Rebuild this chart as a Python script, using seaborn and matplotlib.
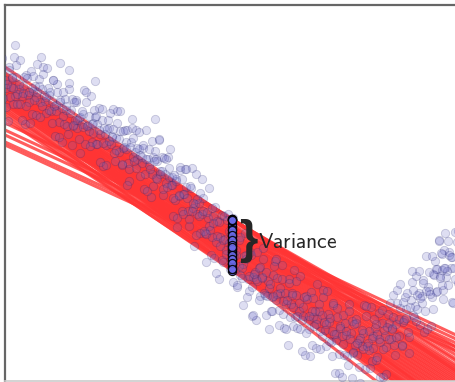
import numpy as np
import pandas as pd
import seaborn as sns
import matplotlib.pyplot as plt

sns.set_style("white")
plt.rcParams["mathtext.fontset"] = "cm"

# observations, read strip by strip from left to right (y measured up from the bottom edge)
obs_x = [3, -6, 8, -2, 10, -9, 1, 6, -5, 0, 7, -8, 4, -3,
         23, 14, 28, 18, 30, 11, 21, 26, 15, 20, 27, 12, 24, 17,
         43, 34, 48, 38, 50, 31, 41, 46, 35, 40, 47, 32, 44, 37,
         63, 54, 68, 58, 70, 51, 61, 66, 55, 60, 67, 52, 64, 57,
         83, 74, 88, 78, 90, 71, 81, 86, 75, 80, 87, 72, 84, 77,
         103, 94, 108, 98, 110, 91, 101, 106, 95, 100, 107, 92, 104, 97,
         123, 114, 128, 118, 130, 111, 121, 126, 115, 120, 127, 112, 124, 117,
         143, 134, 148, 138, 150, 131, 141, 146, 135, 140, 147, 132, 144, 137,
         163, 154, 168, 158, 170, 151, 161, 166, 155, 160, 167, 152, 164, 157,
         183, 174, 188, 178, 190, 171, 181, 186, 175, 180, 187, 172, 184, 177,
         203, 194, 208, 198, 210, 191, 201, 206, 195, 200, 207, 192, 204, 197,
         223, 214, 228, 218, 230, 211, 221, 226, 215, 220, 227, 212, 224, 217,
         243, 234, 248, 238, 250, 231, 241, 246, 235, 240, 247, 232, 244, 237,
         263, 254, 268, 258, 270, 251, 261, 266, 255, 260, 267, 252, 264, 257,
         283, 274, 288, 278, 290, 271, 281, 286, 275, 280, 287, 272, 284, 277,
         303, 294, 308, 298, 310, 291, 301, 306, 295, 300, 307, 292, 304, 297,
         323, 314, 328, 318, 330, 311, 321, 326, 315, 320, 327, 312, 324, 317,
         343, 334, 348, 338, 350, 331, 341, 346, 335, 340, 347, 332, 344, 337,
         363, 354, 368, 358, 370, 351, 361, 366, 355, 360, 367, 352, 364, 357,
         383, 374, 388, 378, 390, 371, 381, 386, 375, 380, 387, 372, 384, 377,
         403, 394, 408, 398, 410, 391, 401, 406, 395, 400, 407, 392, 404, 397,
         423, 414, 428, 418, 430, 411, 421, 426, 415, 420, 427, 412, 424, 417,
         443, 434, 448, 438, 450, 431, 441, 446, 435, 440, 447, 432, 444, 437,
         10, 36, 55, 64, 90, 150, 122, 453, 455,
         2, 14, 7, 19, 4, 11, 9, 17, 1, 15, 5, 12, 18, 8,
         22, 34, 27, 39, 24, 31, 29, 37, 21, 35, 25, 32, 38, 28,
         42, 54, 47, 59, 44, 51, 49, 57, 41, 55, 45, 52, 58, 48,
         62, 74, 67, 79, 64, 71, 69, 77, 61, 75, 65, 72, 78, 68,
         82, 94, 87, 99, 84, 91, 89, 97, 81, 95, 85, 92, 98, 88,
         102, 114, 107, 119, 104, 111, 109, 117, 101, 115, 105, 112, 118, 108,
         122, 134, 127, 139, 124, 131, 129, 137, 121, 135, 125, 132, 138, 128,
         142, 154, 147, 159, 144, 151, 149, 157, 141, 155, 145, 152, 158, 148,
         162, 174, 167, 179, 164, 171, 169, 177, 161, 175, 165, 172, 178, 168,
         182, 194, 187, 199, 184, 191, 189, 197, 181, 195, 185, 192, 198, 188,
         202, 214, 207, 219, 204, 211, 209, 217, 201, 215, 205, 212, 218, 208,
         222, 234, 227, 239, 224, 231, 229, 237, 221, 235, 225, 232, 238, 228,
         242, 254, 247, 259, 244, 251, 249, 257, 241, 255, 245, 252, 258, 248,
         262, 274, 267, 279, 264, 271, 269, 277, 261, 275, 265, 272, 278, 268,
         282, 294, 287, 299, 284, 291, 289, 297, 281, 295, 285, 292, 298, 288,
         302, 314, 307, 319, 304, 311, 309, 317, 301, 315, 305, 312, 318, 308,
         322, 334, 327, 339, 324, 331, 329, 337, 321, 335, 325, 332, 338, 328,
         342, 354, 347, 359, 344, 351, 349, 357, 341, 355, 345, 352, 358, 348,
         362, 374, 367, 379, 364, 371, 369, 377, 361, 375, 365, 372, 378, 368,
         382, 394, 387, 399, 384, 391, 389, 397, 381, 395, 385, 392, 398, 388,
         402, 414, 407, 419, 404, 411, 409, 417, 401, 415, 405, 412, 418, 408,
         422, 434, 427, 439, 424, 431, 429, 437, 421, 435, 425, 432, 438, 428,
         437, 449, 442, 454, 439, 446, 444, 452, 436, 450, 440, 447, 453, 443]
obs_y = [260, 273, 277, 283, 285, 291, 293, 294, 299, 301, 304, 310, 314, 323,
         286, 292, 290, 295, 295, 304, 306, 310, 321, 257, 267, 277, 279, 285,
         293, 302, 301, 314, 245, 266, 268, 270, 279, 280, 280, 289, 286, 292,
         247, 259, 255, 265, 261, 276, 271, 271, 281, 282, 282, 297, 298, 239,
         256, 263, 258, 267, 264, 279, 279, 285, 228, 237, 239, 253, 250, 257,
         261, 273, 272, 215, 220, 237, 236, 237, 247, 247, 245, 257, 253, 261,
         218, 229, 224, 233, 229, 243, 239, 239, 250, 251, 253, 270, 200, 216,
         222, 232, 224, 236, 230, 251, 251, 184, 205, 207, 207, 222, 216, 224,
         224, 241, 165, 186, 181, 203, 198, 196, 210, 207, 204, 220, 213, 224,
         170, 185, 173, 187, 177, 202, 194, 193, 211, 212, 213, 154, 155, 170,
         163, 178, 165, 183, 174, 207, 119, 126, 148, 148, 144, 167, 155, 167,
         167, 102, 99, 119, 111, 139, 131, 128, 144, 142, 137, 160, 150, 166,
         102, 115, 104, 117, 109, 131, 126, 126, 144, 148, 65, 94, 90, 103,
         100, 113, 106, 122, 120, 61, 66, 70, 85, 86, 84, 100, 93, 103,
         36, 56, 55, 67, 64, 81, 77, 77, 88, 88, 88, 103, 102, 116,
         61, 70, 64, 74, 70, 86, 85, 89, 105, 26, 36, 53, 52, 61,
         67, 77, 76, 91, 8, 33, 35, 39, 50, 51, 50, 62, 59, 66,
         16, 27, 28, 37, 36, 47, 46, 48, 55, 58, 60, 73, 77, 4,
         38, 41, 45, 48, 53, 58, 65, 74, -2, 12, 20, 26, 31, 35,
         67, 68, 86, 4, 26, 21, 34, 42, 39, 45, 53, 47, 58, 58,
         49, 45, 66, 59, 75, 57, 72, 81, 73, 84, 99, 91, 28, 35,
         94, 88, 107, 101, 120, 105, 125, 55, 56, 70, 84, 72, 90, 85,
         140, 140, 78, 82, 102, 89, 104, 113, 105, 113, 124, 112, 129, 127,
         336, 324, 318, 311, 300, 262, 196, 150, 142,
         297, 297, 303, 304, 311, 316, 324, 261, 274, 277, 284, 287, 288, 293,
         303, 295, 293, 286, 289, 284, 281, 275, 275, 264, 258, 317, 307, 305,
         313, 244, 258, 257, 271, 270, 275, 273, 284, 279, 289, 289, 289, 301,
         255, 242, 236, 291, 292, 281, 279, 270, 275, 264, 268, 261, 254, 256,
         255, 251, 257, 253, 265, 265, 271, 272, 289, 219, 235, 237, 238, 248,
         252, 242, 244, 234, 240, 231, 228, 217, 216, 270, 268, 258, 250, 252,
         251, 249, 262, 192, 212, 213, 220, 218, 232, 226, 234, 233, 233, 243,
         190, 242, 240, 223, 232, 222, 220, 210, 222, 207, 212, 202, 192, 195,
         194, 186, 196, 187, 204, 200, 206, 202, 222, 214, 232, 163, 167, 183,
         183, 165, 170, 150, 162, 146, 135, 202, 212, 188, 195, 182, 170, 178,
         169, 159, 173, 165, 193, 108, 123, 121, 147, 135, 151, 145, 141, 158,
         161, 141, 143, 125, 138, 126, 125, 113, 127, 106, 112, 96, 76, 163,
         84, 81, 94, 88, 105, 102, 107, 104, 122, 114, 129, 129, 133, 66,
         85, 71, 70, 53, 52, 122, 115, 102, 109, 93, 97, 87, 80, 85,
         81, 78, 86, 84, 98, 100, 111, 30, 52, 52, 64, 65, 65, 74,
         82, 70, 70, 59, 65, 57, 55, 45, 48, 32, 25, 97, 84, 83,
         90, 8, 25, 26, 40, 41, 47, 45, 57, 53, 63, 64, 66, 78,
         25, 14, 3, 76, 70, 62, 57, 51, 50, 43, 42, 38, 32, 29,
         35, 42, 43, 51, 50, 57, 62, 71, 75, 4, 13, 24, 32, 33,
         54, 62, 52, 61, 42, 44, 36, 36, 7, 97, 78, 78, 79, 64,
         88, 110, 110, 49, 44, 60, 64, 78, 63, 83, 74, 86, 98, 91,
         52, 141, 125, 131, 109, 112, 106, 111, 90, 103, 87, 90, 91, 72,
         96, 113, 110, 125, 113, 124, 126, 139, 128, 149, 148, 79, 98, 96]

# fitted lines (one per resample): value at the left edge and at the right edge
x_left, x_right = 0, 451
fit_left = [308, 306, 304, 303, 302, 300, 299, 298, 297, 296, 295, 294, 293, 292,
            291, 290, 289, 288, 287, 286, 285, 284, 283, 282, 281, 280, 279, 278,
            277, 276, 274, 272, 270, 268, 265, 262, 290, 314,
            258, 251, 246, 239, 236,
            300, 297, 293, 290, 288]
fit_right = [16, 20, 12, 22, 8, 26, 4, 14, 0, 10, -4, 30, -8, 6,
             -12, 2, -16, -2, -20, -6, -24, -10, -28, -14, -32, -18, -36, -22,
             -40, -26, -30, -44, -34, -38, -42, -36, 34, 10,
             46, 42, 38, 34, 30,
             -30, -42, -46, -52, -62]
x_probe = 227

obs = pd.DataFrame({"x": obs_x, "y": obs_y})
fits = pd.DataFrame({
    "fit": np.repeat(np.arange(len(fit_left)), 2),
    "x": np.tile([x_left, x_right], len(fit_left)),
    "y": np.column_stack([fit_left, fit_right]).ravel(),
})
probe = pd.DataFrame({
    "x": x_probe,
    "y": [np.interp(x_probe, [x_left, x_right], [a, b]) for a, b in zip(fit_left, fit_right)],
})

fig = plt.figure(figsize=(4.56, 3.82), dpi=100)
ax = fig.add_axes([5 / 456, 1 / 382, 1.0, 376 / 382])

sns.lineplot(data=fits, x="x", y="y", units="fit", estimator=None, color="#ff3434",
             alpha=0.8, linewidth=2.2, ax=ax, zorder=2, legend=False)
sns.scatterplot(data=obs, x="x", y="y", color="#6a6ac8", alpha=0.22, s=36,
                edgecolor="#20206a", linewidth=0.6, ax=ax, zorder=3, legend=False)
sns.scatterplot(data=probe, x="x", y="y", color="#6b6bea", alpha=0.9, s=34,
                edgecolor="black", linewidth=0.9, ax=ax, zorder=4, legend=False)

ax.text(234, 140, "}", fontsize=34, family="Liberation Sans", weight="bold",
        va="center", ha="left", zorder=5)
ax.text(253, 139, r"$\mathsf{Variance}$", fontsize=15.6, va="center", ha="left", zorder=5)

ax.set_xlim(0, 456)
ax.set_ylim(0, 376)
ax.set_xticks([])
ax.set_yticks([])
ax.set_xlabel("")
ax.set_ylabel("")
for side in ["left", "top", "right"]:
    ax.spines[side].set_color("#666666")
    ax.spines[side].set_linewidth(1.6)
ax.spines["bottom"].set_color("#cccccc")
ax.spines["bottom"].set_linewidth(1.2)

fig.savefig("out.png", dpi=100)
